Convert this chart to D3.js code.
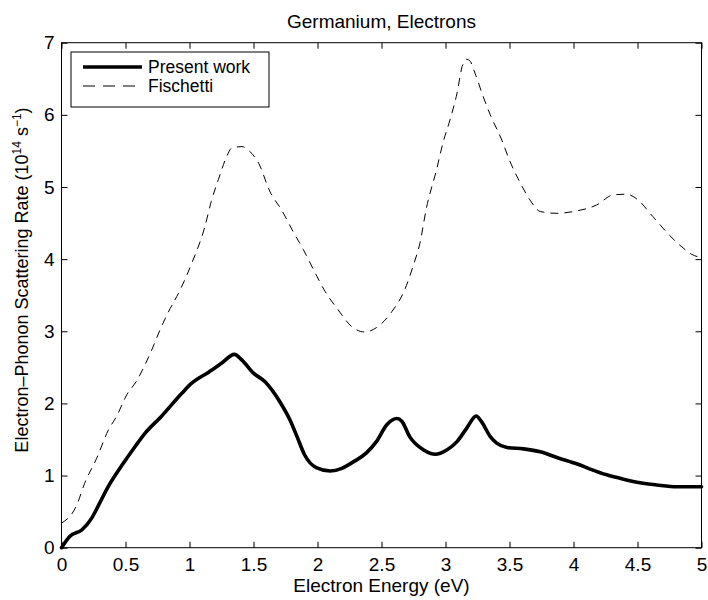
<!DOCTYPE html>
<html>
<head>
<meta charset="utf-8">
<script src="https://cdn.jsdelivr.net/npm/d3@7"></script>
<style>
  body { margin: 0; background: #fff; }
  text { font-family: "Liberation Sans", Arial, Helvetica, sans-serif; fill: #000; }
</style>
</head>
<body>
<svg id="chart" width="708" height="600"></svg>
<script>
// ---- data ----
const presentEnergy = [0.0, 0.066, 0.158, 0.236, 0.29, 0.366, 0.483, 0.574, 0.652, 0.78, 0.94, 1.017, 1.147, 1.25, 1.35, 1.41, 1.50, 1.59, 1.707, 1.785, 1.84, 1.90, 1.99, 2.10, 2.19, 2.28, 2.38, 2.46, 2.54, 2.62, 2.66, 2.72, 2.83, 2.92, 3.01, 3.09, 3.165, 3.24, 3.28, 3.35, 3.40, 3.48, 3.61, 3.74, 3.87, 4.03, 4.13, 4.26, 4.39, 4.52, 4.65, 4.81, 5.0];
const presentRate = [0.0, 0.16, 0.245, 0.41, 0.59, 0.85, 1.17, 1.40, 1.585, 1.82, 2.14, 2.28, 2.43, 2.556, 2.68, 2.60, 2.42, 2.30, 2.02, 1.77, 1.54, 1.285, 1.11, 1.063, 1.10, 1.19, 1.31, 1.47, 1.70, 1.79, 1.75, 1.54, 1.355, 1.295, 1.355, 1.47, 1.655, 1.826, 1.75, 1.54, 1.45, 1.39, 1.37, 1.33, 1.25, 1.16, 1.09, 1.01, 0.95, 0.90, 0.87, 0.845, 0.845];

const fischettiEnergy = [0.0, 0.119, 0.18, 0.275, 0.366, 0.43, 0.51, 0.59, 0.64, 0.70, 0.77, 0.83, 0.926, 1.017, 1.12, 1.17, 1.225, 1.29, 1.33, 1.41, 1.46, 1.54, 1.63, 1.72, 1.81, 1.89, 1.97, 2.06, 2.16, 2.27, 2.37, 2.46, 2.58, 2.68, 2.75, 2.80, 2.85, 2.93, 2.98, 3.035, 3.09, 3.13, 3.165, 3.19, 3.23, 3.295, 3.35, 3.44, 3.50, 3.58, 3.66, 3.74, 3.87, 4.00, 4.18, 4.31, 4.415, 4.49, 4.62, 4.75, 4.86, 4.92, 5.00];
const fischettiRate = [0.34, 0.59, 0.89, 1.24, 1.63, 1.82, 2.12, 2.32, 2.49, 2.72, 3.02, 3.25, 3.57, 3.94, 4.45, 4.80, 5.10, 5.42, 5.54, 5.56, 5.51, 5.33, 4.93, 4.68, 4.38, 4.13, 3.85, 3.55, 3.30, 3.06, 2.99, 3.05, 3.27, 3.57, 3.92, 4.22, 4.70, 5.24, 5.61, 5.93, 6.30, 6.67, 6.77, 6.75, 6.58, 6.25, 6.00, 5.65, 5.37, 5.07, 4.82, 4.66, 4.635, 4.66, 4.75, 4.89, 4.90, 4.84, 4.59, 4.33, 4.15, 4.07, 4.02];

const xTicks = [0, 0.5, 1, 1.5, 2, 2.5, 3, 3.5, 4, 4.5, 5];
const xTickLabels = ["0", "0.5", "1", "1.5", "2", "2.5", "3", "3.5", "4", "4.5", "5"];
const yTicks = [0, 1, 2, 3, 4, 5, 6, 7];
const yTickLabels = ["0", "1", "2", "3", "4", "5", "6", "7"];
const seriesNames = ["Present work", "Fischetti"];
const titleText = "Germanium, Electrons";
const xLabelText = "Electron Energy (eV)";

// ---- layout ----
const svg = d3.select("#chart");
const pLeft = 61.5, pRight = 701.5, pTop = 42.7, pBottom = 547.7;
const x = d3.scaleLinear().domain([0, 5]).range([pLeft, pRight]);
const y = d3.scaleLinear().domain([0, 7]).range([pBottom, pTop]);
const FS = 19;

svg.append("rect").attr("width", 708).attr("height", 600).attr("fill", "#fff");

// lines
const line = d3.line().x(d => x(d[0])).y(d => y(d[1])).curve(d3.curveMonotoneX);
const presentData = presentEnergy.map((e, i) => [e, presentRate[i]]);
const fischettiData = fischettiEnergy.map((e, i) => [e, fischettiRate[i]]);

svg.append("path").datum(fischettiData).attr("d", line)
  .attr("fill", "none").attr("stroke", "#000").attr("stroke-width", 1)
  .attr("stroke-dasharray", "8,6");
svg.append("path").datum(presentData).attr("d", line)
  .attr("fill", "none").attr("stroke", "#000").attr("stroke-width", 3.6)
  .attr("stroke-linejoin", "round").attr("stroke-linecap", "round");

// axes (ticks inward, mirrored)
const axB = d3.axisBottom(x).tickValues(xTicks).tickFormat((d, i) => xTickLabels[i]).tickSizeInner(-6).tickSizeOuter(0).tickPadding(10);
const axT = d3.axisTop(x).tickValues(xTicks).tickFormat("").tickSizeInner(-6).tickSizeOuter(0);
const axL = d3.axisLeft(y).tickValues(yTicks).tickFormat((d, i) => yTickLabels[i]).tickSizeInner(-6).tickSizeOuter(0).tickPadding(7);
const axR = d3.axisRight(y).tickValues(yTicks).tickFormat("").tickSizeInner(-6).tickSizeOuter(0);

function style(g) {
  g.select(".domain").remove();
  g.selectAll("line").attr("stroke", "#000").attr("stroke-width", 1);
  g.selectAll("text").attr("font-size", FS).attr("fill", "#000")
    .style("font-family", '"Liberation Sans", Arial, Helvetica, sans-serif');
}
svg.append("g").attr("transform", `translate(0,${pBottom})`).call(axB).call(style)
  .selectAll("text").attr("dy", "0.71em");
svg.append("g").attr("transform", `translate(0,${pTop})`).call(axT).call(style);
svg.append("g").attr("transform", `translate(${pLeft},0)`).call(axL).call(style);
svg.append("g").attr("transform", `translate(${pRight},0)`).call(axR).call(style);

svg.append("rect").attr("x", pLeft).attr("y", pTop).attr("width", pRight - pLeft).attr("height", pBottom - pTop)
  .attr("fill", "none").attr("stroke", "#000").attr("stroke-width", 1);

// title & labels
svg.append("text").attr("x", (pLeft + pRight) / 2).attr("y", 28).attr("text-anchor", "middle")
  .attr("font-size", FS).text(titleText);
svg.append("text").attr("x", (pLeft + pRight) / 2).attr("y", 592).attr("text-anchor", "middle")
  .attr("font-size", FS).text(xLabelText);

const yl = svg.append("text").attr("transform", "translate(28,280) rotate(-90)")
  .attr("text-anchor", "middle").attr("font-size", 18);
yl.append("tspan").text("Electron\u2013Phonon Scattering Rate (10");
yl.append("tspan").attr("font-size", 12).attr("dy", -7).text("14");
yl.append("tspan").attr("dy", 7).text(" s");
yl.append("tspan").attr("font-size", 12).attr("dy", -7).text("\u22121");
yl.append("tspan").attr("dy", 7).text(")");

// legend
const lg = svg.append("g");
lg.append("rect").attr("x", 71).attr("y", 52).attr("width", 198).attr("height", 55)
  .attr("fill", "#fff").attr("stroke", "#000").attr("stroke-width", 1);
const legendStyles = [{w: 3.6, dash: null}, {w: 1, dash: "12,8"}];
seriesNames.forEach((name, i) => {
  const yy = 67 + i * 19;
  const l = lg.append("line").attr("x1", 83).attr("x2", 142).attr("y1", yy).attr("y2", yy)
    .attr("stroke", "#000").attr("stroke-width", legendStyles[i].w);
  if (legendStyles[i].dash) l.attr("stroke-dasharray", legendStyles[i].dash);
  lg.append("text").attr("x", 148).attr("y", yy + 6).attr("font-size", 17.5).text(name);
});
</script>
</body>
</html>
